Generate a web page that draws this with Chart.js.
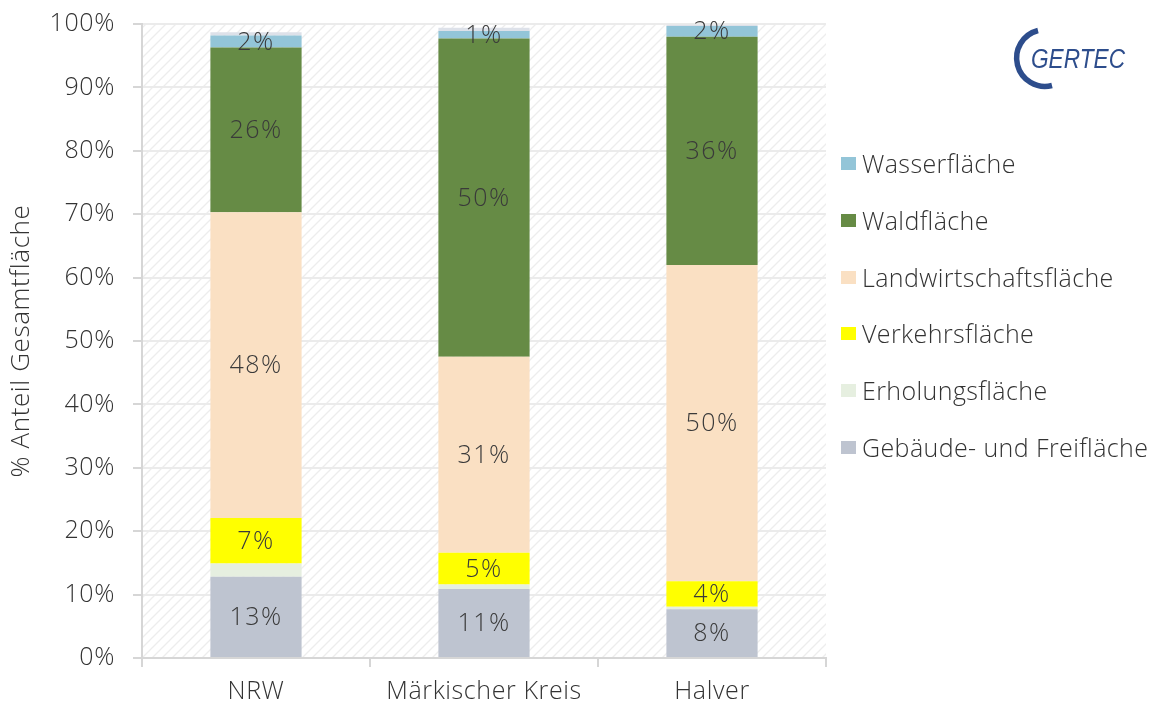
<!DOCTYPE html>
<html>
<head>
<meta charset="utf-8">
<script src="https://cdn.jsdelivr.net/npm/chart.js@4.4.0/dist/chart.umd.min.js"></script>
<style>
  html, body { margin: 0; padding: 0; background: #fff; }
  #wrap { position: relative; width: 1155px; height: 702px; }
  #legend { position: absolute; left: 841px; top: 0; font-family: "Open Sans", sans-serif; font-weight: 300; font-size: 25px; letter-spacing: 0.4px; color: #333; }
  .item { position: absolute; left: 0; white-space: nowrap; display: flex; align-items: center; height: 30px; }
  .box { width: 15px; height: 13px; margin-right: 6px; }
  #logo { position: absolute; left: 1000px; top: 20px; }
</style>
</head>
<body>
<div id="wrap">
  <canvas id="chart" width="1155" height="702"></canvas>
  <div id="legend"></div>
  <svg id="logo" width="140" height="75" viewBox="0 0 140 75">
    <path d="M 38 10.5 A 28 28 0 1 0 52 65.5" fill="none" stroke="#2d4d8c" stroke-width="5.5"/>
    <text x="31" y="48" font-family="Liberation Sans, sans-serif" font-style="italic" font-size="27" fill="#2d4d8c" textLength="94" lengthAdjust="spacingAndGlyphs">GERTEC</text>
  </svg>
</div>
<script>
const categories = ["NRW", "Märkischer Kreis", "Halver"];

// Anteile in % der Gesamtfläche
const gebaeude = [12.8, 10.9, 7.7];
const erholung = [2.1, 0.7, 0.4];
const verkehr = [7.2, 5.0, 4.0];
const landwirtschaft = [48.2, 30.9, 49.9];
const wald = [26.0, 50.2, 36.0];
const wasser = [1.9, 1.2, 1.7];
const sonstige = [0.5, 0.5, 0.2];

const yTicks = [0, 10, 20, 30, 40, 50, 60, 70, 80, 90, 100];

const FONT = "'Open Sans', sans-serif";

const datasets = [
  { label: "Gebäude- und Freifläche", data: gebaeude, backgroundColor: "#bec4d0", showValue: true },
  { label: "Erholungsfläche", data: erholung, backgroundColor: "#e6efe0", showValue: false },
  { label: "Verkehrsfläche", data: verkehr, backgroundColor: "#ffff00", showValue: true },
  { label: "Landwirtschaftsfläche", data: landwirtschaft, backgroundColor: "#fae0c3", showValue: true },
  { label: "Waldfläche", data: wald, backgroundColor: "#668b45", showValue: true },
  { label: "Wasserfläche", data: wasser, backgroundColor: "#93c5d8", showValue: true },
  { label: "Sonstige", data: sonstige, backgroundColor: "#dde1e9", showValue: false, inLegend: false },
];

// schraffierter Hintergrund der Zeichenfläche
function makeHatch() {
  const c = document.createElement("canvas");
  c.width = 10; c.height = 10;
  const g = c.getContext("2d");
  g.strokeStyle = "#ededed";
  g.lineWidth = 1.3;
  g.beginPath();
  g.moveTo(-2, 12); g.lineTo(12, -2);
  g.moveTo(-2, 2); g.lineTo(2, -2);
  g.moveTo(8, 12); g.lineTo(12, 8);
  g.stroke();
  return c;
}

const hatchBackground = {
  id: "hatchBackground",
  beforeDraw(chart) {
    const { ctx, chartArea } = chart;
    ctx.letterSpacing = "0.6px";
    ctx.save();
    ctx.fillStyle = ctx.createPattern(makeHatch(), "repeat");
    ctx.fillRect(chartArea.left, chartArea.top, chartArea.right - chartArea.left, chartArea.bottom - chartArea.top);
    ctx.restore();
  }
};

const segmentLabels = {
  id: "segmentLabels",
  afterDatasetsDraw(chart) {
    const ctx = chart.ctx;
    ctx.save();
    ctx.font = "300 25px " + FONT;
    ctx.letterSpacing = "1.5px";
    ctx.fillStyle = "#3a3a3a";
    ctx.textAlign = "center";
    ctx.textBaseline = "middle";
    chart.data.datasets.forEach((ds, i) => {
      if (!ds.showValue) return;
      chart.getDatasetMeta(i).data.forEach((bar, j) => {
        ctx.fillText(Math.round(ds.data[j]) + "%", bar.x, (bar.y + bar.base) / 2 + 1);
      });
    });
    ctx.restore();
  }
};

new Chart(document.getElementById("chart"), {
  type: "bar",
  data: {
    labels: categories,
    datasets: datasets.map((d) => ({ ...d, barPercentage: 0.4, categoryPercentage: 1.0, borderWidth: 0 })),
  },
  options: {
    responsive: false,
    animation: false,
    layout: { padding: { top: 24, right: 329, bottom: 0, left: 0 } },
    plugins: {
      legend: { display: false },
      tooltip: { enabled: false },
    },
    scales: {
      x: {
        stacked: true,
        offset: true,
        afterFit: (axis) => { axis.height = 44; axis.paddingLeft = 0; axis.paddingRight = 0; },
        grid: { offset: true, drawOnChartArea: false, drawTicks: true, tickLength: 9, tickColor: "#d6d6d6", lineWidth: 2 },
        border: { color: "#d6d6d6", width: 2 },
        ticks: { color: "#333", padding: 10, font: { family: FONT, size: 25, weight: 300 } },
      },
      y: {
        stacked: true,
        min: 0,
        max: 100,
        afterFit: (axis) => { axis.width = 142; axis.paddingTop = 0; axis.paddingBottom = 0; },
        afterBuildTicks: (axis) => { axis.ticks = yTicks.map((v) => ({ value: v })); },
        grid: { color: "#ebebeb", lineWidth: 2, drawTicks: true, tickLength: 9, tickColor: "#d6d6d6" },
        border: { color: "#d6d6d6", width: 2 },
        ticks: { color: "#333", padding: 18, font: { family: FONT, size: 25, weight: 300 }, callback: (v) => v + "%" },
        title: { display: true, text: "% Anteil Gesamtfläche", color: "#333", padding: { top: 6, bottom: 0 }, font: { family: FONT, size: 26, weight: 300 } },
      },
    },
  },
  plugins: [hatchBackground, segmentLabels],
});

// Legende rechts (umgekehrte Reihenfolge wie im Stapel)
const legendRows = [163, 220, 277, 333, 390, 447];
const legendEl = document.getElementById("legend");
datasets.filter((d) => d.inLegend !== false).reverse().forEach((d, i) => {
  const item = document.createElement("div");
  item.className = "item";
  item.style.top = (legendRows[i] - 15) + "px";
  const box = document.createElement("span");
  box.className = "box";
  box.style.background = d.backgroundColor;
  const txt = document.createElement("span");
  txt.textContent = d.label;
  item.appendChild(box);
  item.appendChild(txt);
  legendEl.appendChild(item);
});
</script>
</body>
</html>
